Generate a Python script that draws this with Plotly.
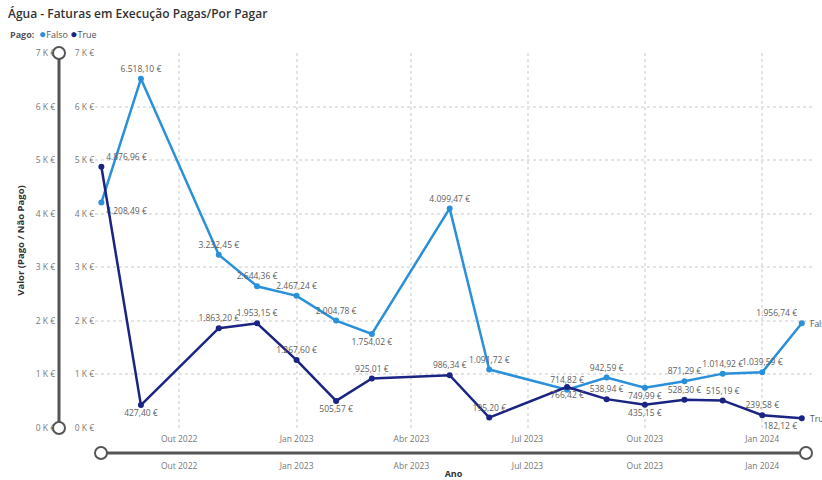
import plotly.graph_objects as go

# ---- data ----
dates = ["2022-08-01", "2022-09-01", "2022-11-01", "2022-12-01", "2023-01-01", "2023-02-01",
         "2023-03-01", "2023-05-01", "2023-06-01", "2023-08-01", "2023-09-01", "2023-10-01",
         "2023-11-01", "2023-12-01", "2024-01-01", "2024-02-01"]
falso = [4208.49, 6518.10, 3232.45, 2644.36, 2467.24, 2004.78, 1754.02, 4099.47, 1091.72,
         714.82, 942.59, 749.99, 871.29, 1014.92, 1039.59, 1956.74]
true_ = [4876.96, 427.40, 1863.20, 1953.15, 1267.60, 505.57, 925.01, 986.34, 195.20,
         766.42, 538.94, 435.15, 528.30, 515.19, 239.58, 182.12]
falso_pos = ["bottom right", "top center", "top center", "top center", "top center", "top center",
             "bottom center", "top center", "top center", "top center", "top center", "bottom center",
             "top center", "top center", "top center", "top left"]
true_pos = ["top right", "bottom center", "top center", "top center", "top center", "bottom center",
            "top center", "top center", "top center", "bottom center", "top center", "bottom center",
            "top center", "top center", "top center", "bottom left"]
x_tickvals = ["2022-10-01", "2023-01-01", "2023-04-01", "2023-07-01", "2023-10-01", "2024-01-01"]
x_ticktext = ["Out 2022", "Jan 2023", "Abr 2023", "Jul 2023", "Out 2023", "Jan 2024"]
y_tickvals = [0, 1000, 2000, 3000, 4000, 5000, 6000, 7000]
y_ticktext = [f"{v // 1000} K €" for v in y_tickvals]

C_FALSO = "#2A90DA"
C_TRUE = "#1B2483"
FONT = "Open Sans"
W, H = 822, 480

# plot area in pixels
PX0, PX1 = 95, 812
PY_TOP, PY_BOT = 53, 428
xdom = [PX0 / W, PX1 / W]
ydom = [(H - PY_BOT) / H, (H - PY_TOP) / H]

fig = go.Figure()
for name, vals, pos, col in [("Falso", falso, falso_pos, C_FALSO), ("True", true_, true_pos, C_TRUE)]:
    fig.add_trace(go.Scatter(
        x=dates, y=vals, mode="lines+markers+text", name=name,
        line=dict(color=col, width=2.5), marker=dict(color=col, size=6),
        texttemplate="%{y:,.2f} €", textposition=pos,
        textfont=dict(family=FONT, size=8.5, color="#606060"),
        showlegend=False, cliponaxis=False,
    ))
    fig.add_annotation(x=dates[-1], y=vals[-1], xref="x", yref="y", text=name,
                       showarrow=False, xanchor="left", xshift=6,
                       font=dict(family=FONT, size=8.5, color="#555555"))

# helper trace for secondary (slider) axes
fig.add_trace(go.Scatter(x=dates, y=[None] * len(dates), xaxis="x2", yaxis="y2",
                         mode="markers", showlegend=False, hoverinfo="skip"))

axis_font = dict(family=FONT, size=8.5, color="#777777")
GRID = "#e4e4e4"
fig.update_layout(
    width=W, height=H, margin=dict(l=0, r=0, t=0, b=0),
    paper_bgcolor="white", plot_bgcolor="white",
    separators=",.",
    showlegend=False,
    title=dict(text="Água - Faturas em Execução Pagas/Por Pagar", x=8 / W, xanchor="left",
               y=1 - 14 / H, yanchor="middle", yref="container",
               font=dict(family=FONT, size=12, color="#333333", weight=600)),
    xaxis=dict(domain=xdom, type="date", range=["2022-07-27", "2024-02-09"],
               tickvals=x_tickvals, ticktext=x_ticktext, tickfont=axis_font,
               showgrid=True, gridcolor=GRID, griddash="dot", gridwidth=1.5,
               showline=False, zeroline=False, ticks="outside", ticklen=3, tickcolor="rgba(0,0,0,0)",
               automargin=False),
    yaxis=dict(domain=ydom, range=[0, 7000], tickvals=y_tickvals, ticktext=y_ticktext,
               tickfont=axis_font, showgrid=True, gridcolor=GRID, griddash="dot", gridwidth=1.5,
               zeroline=False, showline=False, ticks="", automargin=False),
    xaxis2=dict(overlaying="x", matches="x", anchor="free", position=(H - 459) / H,
                tickvals=x_tickvals, ticktext=x_ticktext, tickfont=axis_font,
                showgrid=False, zeroline=False, showline=False, ticks="", automargin=False,
                title=dict(text="Ano", font=dict(family=FONT, size=9, color="#333333", weight=700),
                           standoff=6)),
    yaxis2=dict(overlaying="y", matches="y", anchor="free", position=55 / W,
                tickvals=y_tickvals, ticktext=y_ticktext, tickfont=axis_font,
                showgrid=False, zeroline=False, showline=False, ticks="", automargin=False,
                title=dict(text="Valor (Pago / Não Pago)",
                           font=dict(family=FONT, size=9.5, color="#333333", weight=700),
                           standoff=8)),
)

# legend as annotation
fig.add_annotation(
    x=8 / W, y=1 - 34 / H, xref="paper", yref="paper", xanchor="left", yanchor="middle",
    showarrow=False,
    text=(f"<b>Pago:</b>  <span style='color:{C_FALSO};font-size:12px'>●</span>Falso "
          f"<span style='color:{C_TRUE};font-size:12px'>●</span>True"),
    font=dict(family=FONT, size=9, color="#555555"),
)

# slider decorations
SL = "#555555"
hx_y = (H - 453) / H
hx0, hx1 = 101 / W, 806 / W
fig.add_shape(type="line", xref="paper", yref="paper", x0=hx0, x1=hx1, y0=hx_y, y1=hx_y,
              line=dict(color=SL, width=3))
vx = 59 / W
fig.add_shape(type="line", xref="paper", yref="paper", x0=vx, x1=vx, y0=ydom[0], y1=ydom[1],
              line=dict(color=SL, width=3))
for (cx, cy) in [(hx0, hx_y), (hx1, hx_y), (vx, ydom[0]), (vx, ydom[1])]:
    fig.add_shape(type="circle", xref="paper", yref="paper", xsizemode="pixel", ysizemode="pixel",
                  xanchor=cx, yanchor=cy, x0=-6, x1=6, y0=-6, y1=6,
                  fillcolor="white", line=dict(color=SL, width=2))

fig.write_html("out.html")
